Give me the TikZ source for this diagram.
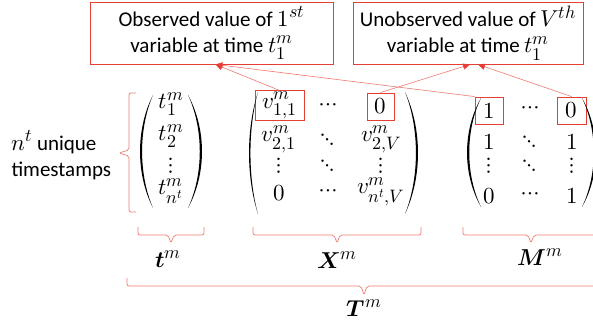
\documentclass[tikz,border=0pt]{standalone}
\usepackage{amsmath}
\usepackage{fontspec}
\usepackage{unicode-math}
\setmainfont{Carlito}
\setmathfont{Latin Modern Math}
\DeclareMathSizes{21}{23}{18}{13}
\usetikzlibrary{arrows.meta,calc}
\definecolor{boxred}{RGB}{230,62,52}
\definecolor{linered}{RGB}{240,122,112}
\tikzset{
  note/.style={draw=boxred,line width=0.9pt,rectangle,minimum height=62pt,align=center,inner sep=2pt},
  hl/.style={draw=boxred,line width=0.9pt,rectangle,minimum height=27pt,inner sep=0pt},
  ent/.style={inner sep=0pt},
  link/.style={draw=linered,line width=0.6pt,-{Triangle[length=7pt,width=6pt,color=boxred]}},
  brc/.style={draw=linered,line width=0.7pt,rounded corners=2pt},
  paren/.style={fill=black}
}

\begin{document}
\begin{tikzpicture}[x=1pt,y=-1pt,font=\fontsize{21}{26}\selectfont]
  \useasboundingbox (0,0) rectangle (593,324);

  % callouts
  \node[note,minimum width=243pt] (obs) at (211.5,33) {Observed value of $1^{st}$\\variable at time $t_1^m$};
  \node[note,minimum width=230pt] (unobs) at (468,33) {Unobserved value of $V^{th}$\\variable at time $t_1^m$};
  \coordinate (obsin) at ($(obs.south)+(4,0)$);
  \coordinate (unobsin1) at ($(unobs.south)+(2,0)$);
  \coordinate (unobsin2) at ($(unobs.south)+(10,0)$);

  \node[align=left,anchor=west] (nt) at (8,155) {$n^t$ unique\\timestamps};

  % timestamps
  \node[ent] (t1) at (171,104) {$t_1^m$};
  \node[ent] (t2) at (171,136) {$t_2^m$};
  \node[ent] (t3) at (171,166) {$\vdots$};
  \node[ent] (tn) at (171,191) {$t_{n^t}^m$};

  % values
  \node[hl,minimum width=49pt,minimum height=28pt,inner ysep=1pt] (x11) at (279.5,105.5) {$v_{1,1}^m$};
  \node[ent] (x12) at (328,107) {$\cdots$};
  \node[hl,minimum width=27pt] (x1v) at (380.5,106.5) {$0$};
  \node[ent] (x21) at (279,139) {$v_{2,1}^m$};
  \node[ent] (x22) at (328,140) {$\ddots$};
  \node[ent] (x2v) at (381,139) {$v_{2,V}^m$};
  \node[ent] (x31) at (279,166) {$\vdots$};
  \node[ent] (x32) at (328,166) {$\ddots$};
  \node[ent] (x3v) at (381,166) {$\vdots$};
  \node[ent] (xn1) at (279,193) {$0$};
  \node[ent] (xn2) at (328,193) {$\cdots$};
  \node[ent] (xnv) at (381,192) {$v_{n^t,V}^m$};

  % mask
  \node[hl,minimum width=28pt] (m11) at (489,110.5) {$1$};
  \node[ent] (m12) at (530,110) {$\cdots$};
  \node[hl,minimum width=29pt] (m1v) at (571.5,110.5) {$0$};
  \node[ent] (m21) at (489,142) {$1$};
  \node[ent] (m22) at (530,142) {$\ddots$};
  \node[ent] (m2v) at (572,142) {$1$};
  \node[ent] (m31) at (489,166) {$\vdots$};
  \node[ent] (m32) at (530,166) {$\ddots$};
  \node[ent] (m3v) at (572,166) {$\vdots$};
  \node[ent] (mn1) at (489,196) {$0$};
  \node[ent] (mn2) at (530,196) {$\cdots$};
  \node[ent] (mnv) at (572,196) {$1$};

  % parentheses
  \foreach \xa/\xb/\ya/\yb in {153/140/95/208,188/202/95/208,258/249/92/214,405/418/92/214,481/467/98/207,582/596/98/207}
    \fill[paren] (\xa,\ya) .. controls ({\xa+1.33*(\xb-\xa)},{\ya+0.3*(\yb-\ya)}) and ({\xa+1.33*(\xb-\xa)},{\yb-0.3*(\yb-\ya)}) .. (\xa,\yb)
      .. controls ({\xa+1.12*(\xb-\xa)},{\yb-0.3*(\yb-\ya)}) and ({\xa+1.12*(\xb-\xa)},{\ya+0.3*(\yb-\ya)}) .. cycle;

  \draw[link] (x11.north) -- (obsin);
  \draw[link] (m11.north west) -- (obsin);
  \draw[link] (x1v.north) -- (unobsin1);
  \draw[link] (m1v.north) -- (unobsin2);

  % braces
  \draw[brc] (136,212) -- (129,212) -- (129,156) -- (119,153) -- (129,150) -- (129,93) -- (136,93);
  \draw[brc] (138,227) -- (138,235) -- (168,235) -- (171,243) -- (174,235) -- (204,235) -- (204,227);
  \draw[brc] (253,227) -- (253,235) -- (334,235) -- (337,243) -- (340,235) -- (421,235) -- (421,227);
  \draw[brc] (463,227) -- (463,235) -- (528,235) -- (531,243) -- (534,235) -- (599,235) -- (599,227);
  \draw[brc] (127,278) -- (127,286) -- (361,286) -- (364,295) -- (367,286) -- (601,286) -- (601,278);

  \node (tlab) at (168,259) {$\symbfit{t}^m$};
  \node (xlab) at (337,260) {$\symbfit{X}^m$};
  \node (mlab) at (540,257) {$\symbfit{M}^m$};
  \node (Tlab) at (364,308) {$\symbfit{T}^m$};
\end{tikzpicture}
\end{document}
